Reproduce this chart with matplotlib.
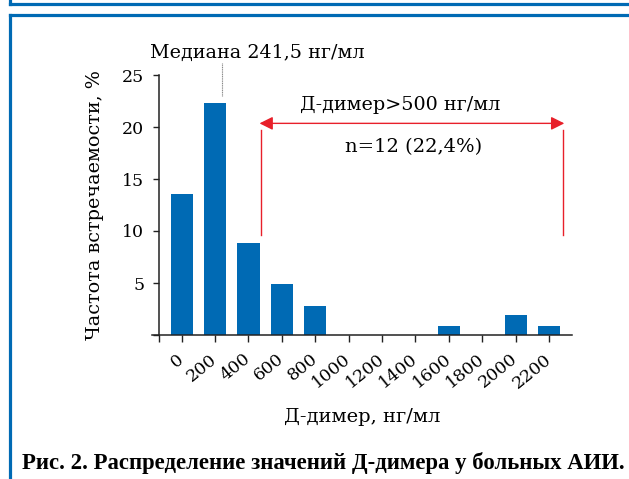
import matplotlib.pyplot as plt
from matplotlib.lines import Line2D
from matplotlib.transforms import ScaledTranslation

categories = ["0", "200", "400", "600", "800", "1000", "1200", "1400",
              "1600", "1800", "2000", "2200"]
frequency = [13.6, 22.3, 8.8, 4.9, 2.8, 0, 0, 0, 0.9, 0, 1.9, 0.9]
median_value = 241.5
bin_step = 200
yticks = [0, 5, 10, 15, 20, 25]
ytick_labels = ["", "5", "10", "15", "20", "25"]

blue = "#006ab4"
red = "#e8202a"
dark = "#222222"
serif = "DejaVu Serif"

fig = plt.figure(figsize=(6.29, 4.79), dpi=100)

# frame of the page
fig.add_artist(Line2D([9.5 / 629, 1.0], [1 - 3.5 / 479, 1 - 3.5 / 479], color=blue, lw=2.3))
fig.add_artist(Line2D([9.5 / 629, 9.5 / 629], [1.0, 1 - 3.5 / 479], color=blue, lw=2.3))
fig.add_artist(Line2D([9.5 / 629, 1.0], [1 - 14.5 / 479, 1 - 14.5 / 479], color=blue, lw=2.3))
fig.add_artist(Line2D([9.5 / 629, 9.5 / 629], [0.0, 1 - 14.5 / 479], color=blue, lw=2.3))

ax = fig.add_axes([152 / 629, 1 - 335 / 479, (572 - 152) / 629, 260 / 479])

x = list(range(len(categories)))
ax.bar(x, frequency, width=0.66, color=blue)

ax.set_xlim(-0.89, 11.69)
ax.set_ylim(0, 25)
for s in ["top", "right"]:
    ax.spines[s].set_visible(False)
ax.spines["left"].set_position(("data", -0.68))
for s in ["left", "bottom"]:
    ax.spines[s].set_color(dark)
    ax.spines[s].set_linewidth(1.1)

ax.set_yticks(yticks)
ax.set_yticklabels(ytick_labels, fontsize=12.5, family=serif)
ax.set_xticks(x)
ax.set_xticklabels(categories, fontsize=12.5, family=serif, rotation=39,
                   ha="right", va="center", rotation_mode="anchor")
shift = ScaledTranslation(6 / 72, 0, fig.dpi_scale_trans)
for lab in ax.get_xticklabels():
    lab.set_transform(lab.get_transform() + shift)
ax.set_xticks([-0.68], minor=True)
ax.tick_params(axis="x", which="both", length=5, width=1, color=dark, pad=11)
ax.tick_params(axis="y", length=4.5, width=1, color=dark, pad=6)

ax.set_ylabel("Частота встречаемости, %", fontsize=13.8, family=serif, labelpad=13)
ax.set_xlabel("Д-димер, нг/мл", fontsize=14, family=serif, labelpad=12)

# median marker
mx = median_value / bin_step
ax.plot([mx, mx], [23.0, 26.2], color="#888888", lw=0.8, ls=(0, (1, 0.6)), clip_on=False)
ax.text(mx + 1.05, 27.1, "Медиана 241,5 нг/мл", fontsize=13.8, family=serif,
        ha="center", va="center", clip_on=False)

# range > 500
ax.annotate("", xy=(2.33, 20.35), xytext=(11.46, 20.35),
            arrowprops=dict(arrowstyle="<|-|>", color=red, lw=1, mutation_scale=20,
                            shrinkA=0, shrinkB=0))
ax.plot([2.37, 2.37], [9.6, 19.7], color=red, lw=1)
ax.plot([11.42, 11.42], [9.6, 19.7], color=red, lw=1)
ax.text(6.54, 22.1, "Д-димер>500 нг/мл", fontsize=13.8, family=serif, ha="center", va="center")
ax.text(6.95, 18.1, "n=12 (22,4%)", fontsize=14, family=serif, ha="center", va="center")

fig.text(323 / 629, 1 - 463 / 479, "Рис. 2. Распределение значений Д-димера у больных АИИ.",
         fontsize=16.4, family="Liberation Serif", weight="bold", ha="center", va="center")

fig.savefig("out.png", dpi=100)
